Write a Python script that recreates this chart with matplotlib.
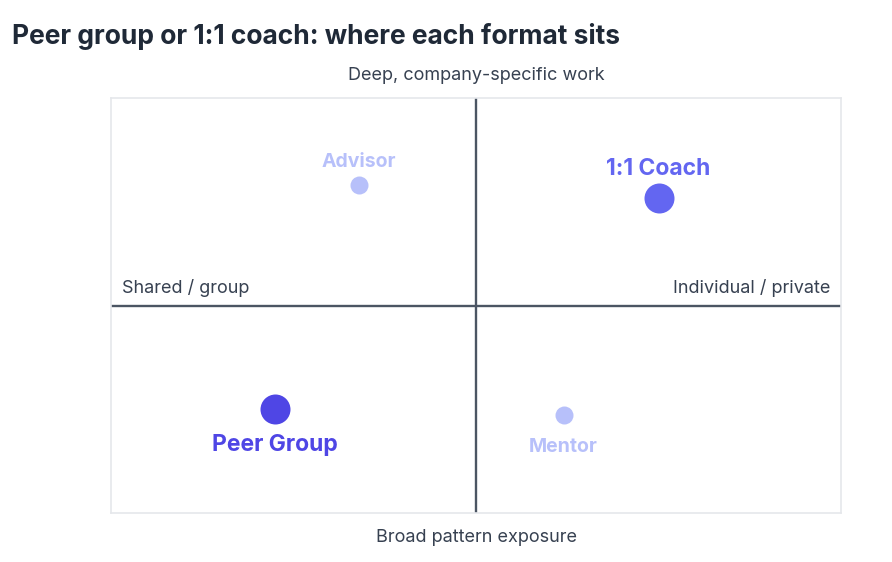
import matplotlib
matplotlib.use('Agg')
import matplotlib.pyplot as plt

# formats placed on two axes, 0-100 each
names = ['Advisor', '1:1 Coach', 'Peer Group', 'Mentor']
xs = [34, 75, 22.5, 62]
ys = [79, 76, 25, 23.5]
highlight = [False, True, True, False]
colors = ['#b7c0fa', '#6366f1', '#4f46e5', '#b7c0fa']

x_low, x_high = 'Shared / group', 'Individual / private'
y_low, y_high = 'Broad pattern exposure', 'Deep, company-specific work'
title = 'Peer group or 1:1 coach: where each format sits'

plt.rcParams['font.family'] = ['Inter', 'DejaVu Sans']

fig = plt.figure(figsize=(8.92, 5.62), dpi=100)
ax = fig.add_axes([111/892, 1 - 513/562, 730/892, 415/562])
ax.set_xlim(0, 100)
ax.set_ylim(0, 100)
ax.set_xticks([])
ax.set_yticks([])
for s in ax.spines.values():
    s.set_color('#e5e7eb')
    s.set_linewidth(1.2)

ax.axvline(50, color='#4b5563', lw=1.7, zorder=1)
ax.axhline(50, color='#4b5563', lw=1.7, zorder=1)

for n, x, y, h, c in zip(names, xs, ys, highlight, colors):
    size = 30 if h else 18
    ax.plot(x, y, 'o', ms=size * 0.72, color=c, mec='none', zorder=3)
    fs = 16.5 if h else 14
    if y > 50:
        off = 12.5 if h else 10.5
        ax.annotate(n, (x, y), xytext=(0, off), textcoords='offset points',
                    ha='center', va='bottom', fontsize=fs, fontweight='bold', color=c)
    else:
        off = 17.5 if h else 16.5
        ax.annotate(n, (x, y), xytext=(0, -off), textcoords='offset points',
                    ha='center', va='top', fontsize=fs, fontweight='bold', color=c)

lab = dict(fontsize=13, color='#374151')
ax.text(0.015, 0.52, x_low, transform=ax.transAxes, ha='left', va='bottom', **lab)
ax.text(0.985, 0.52, x_high, transform=ax.transAxes, ha='right', va='bottom', **lab)
fig.text(476/892, 1 - 76/562, y_high, ha='center', va='center', **lab)
fig.text(476/892, 1 - 537/562, y_low, ha='center', va='center', **lab)

fig.text(12/892, 1 - 36/562, title, ha='left', va='center', fontsize=19,
         fontweight='bold', color='#1f2937')

fig.savefig('out.png', dpi=100, facecolor='white')
